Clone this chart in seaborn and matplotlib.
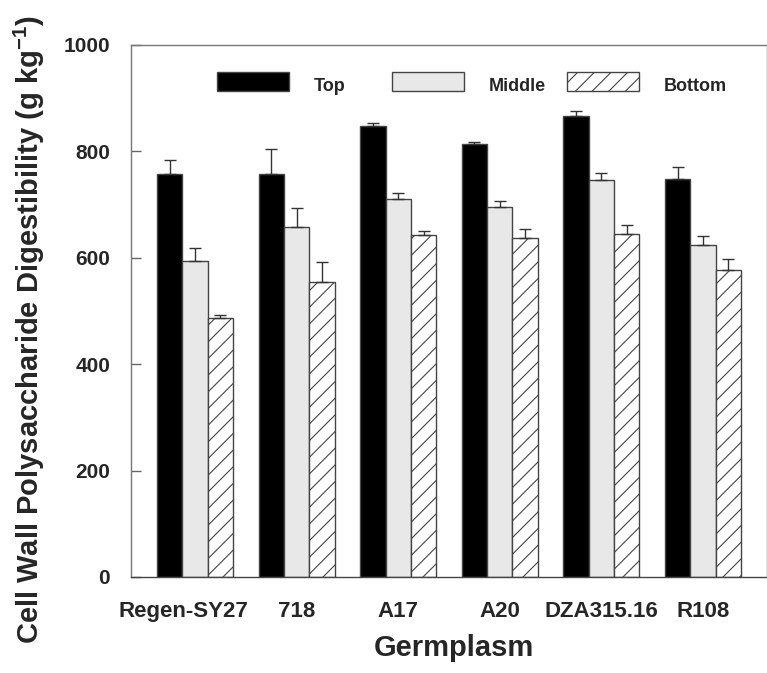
import numpy as np
import pandas as pd
import matplotlib
matplotlib.use('Agg')
import matplotlib.pyplot as plt
import matplotlib.transforms as mtransforms
import seaborn as sns

# values (g kg-1), error = upper SE bar
germplasm = ['Regen-SY27', '718', 'A17', 'A20', 'DZA315.16', 'R108']
positions = ['Top', 'Middle', 'Bottom']
top = [758, 757, 847, 813, 866, 749]
top_err = [25, 48, 7, 4, 10, 21]
middle = [594, 658, 711, 696, 746, 625]
middle_err = [25, 35, 11, 10, 13, 16]
bottom = [487, 555, 643, 638, 644, 578]
bottom_err = [5, 37, 8, 17, 17, 19]

df = pd.DataFrame({
    'germplasm': germplasm * 3,
    'position': [p for p in positions for _ in germplasm],
    'cwpd': top + middle + bottom,
})

sns.set_style('ticks')
plt.rcParams['font.family'] = ['Liberation Sans', 'DejaVu Sans']
plt.rcParams['mathtext.fontset'] = 'custom'
plt.rcParams['mathtext.rm'] = 'Liberation Sans:bold'
plt.rcParams['mathtext.default'] = 'rm'
plt.rcParams['hatch.linewidth'] = 0.8

fig = plt.figure(figsize=(7.67, 6.73), dpi=100)
ax = fig.add_axes([131 / 767, 1 - 577 / 673, 636 / 767, 532 / 673])

sns.barplot(data=df, x='germplasm', y='cwpd', hue='position',
            order=germplasm, hue_order=positions,
            palette=['black', '#e8e8e8', 'white'], saturation=1,
            width=0.75, edgecolor='#444444', linewidth=1,
            errorbar=None, legend=False, ax=ax)

bars = list(ax.containers[:3])
for p in bars[2]:
    p.set_hatch('//')

# one-sided error bars
for cont, err in zip(bars, [top_err, middle_err, bottom_err]):
    xs = [p.get_x() + p.get_width() / 2 for p in cont]
    ys = [p.get_height() for p in cont]
    ax.errorbar(xs, ys, yerr=[np.zeros(len(err)), err], fmt='none',
                ecolor='#333333', elinewidth=1, capsize=4.3, capthick=1, zorder=3)

ax.set_xlim(-0.63, 5.63)
ax.set_ylim(0, 1000)
ax.set_yticks([0, 200, 400, 600, 800, 1000])

for s in ['left', 'top', 'right', 'bottom']:
    ax.spines[s].set_visible(True)
    ax.spines[s].set_color('#777777')
    ax.spines[s].set_linewidth(1)
ax.spines['bottom'].set_color('#444444')

ax.tick_params(axis='y', direction='in', length=7.5, width=1, color='#666666',
               labelsize=15, pad=15)
ax.tick_params(axis='x', length=0, labelsize=16, pad=17)
for lbl in ax.get_xticklabels() + ax.get_yticklabels():
    lbl.set_fontweight('bold')
first = ax.get_xticklabels()[0]
first.set_transform(first.get_transform() +
                    mtransforms.ScaledTranslation(-12 / 100, 0, fig.dpi_scale_trans))

ax.set_xlabel('Germplasm', fontsize=21, fontweight='bold')
ax.xaxis.set_label_coords(0.508, -0.107)
ax.set_ylabel('Cell Wall Polysaccharide Digestibility (g kg$^{-1}$)',
              fontsize=21, fontweight='bold')
ax.yaxis.set_label_coords(-0.132, 0.464)

# legend entries sit in evenly spaced columns, so one legend per entry
shift = mtransforms.ScaledTranslation(0, -4 / 100, fig.dpi_scale_trans)
for i, (cont, name) in enumerate(zip(bars, positions)):
    leg = ax.legend([cont], [name], loc='upper left',
                    bbox_to_anchor=((216.7 + 175 * i) / 767, 1 - 72 / 673),
                    bbox_transform=fig.transFigure,
                    frameon=False, prop={'weight': 'bold', 'size': 13},
                    handlelength=4.0, handleheight=1.22, handletextpad=1.4,
                    borderpad=0, borderaxespad=0)
    for t in leg.get_texts():
        t.set_transform(t.get_transform() + shift)
    if i < len(bars) - 1:
        ax.add_artist(leg)

fig.savefig('out.png', dpi=100, facecolor='white')
